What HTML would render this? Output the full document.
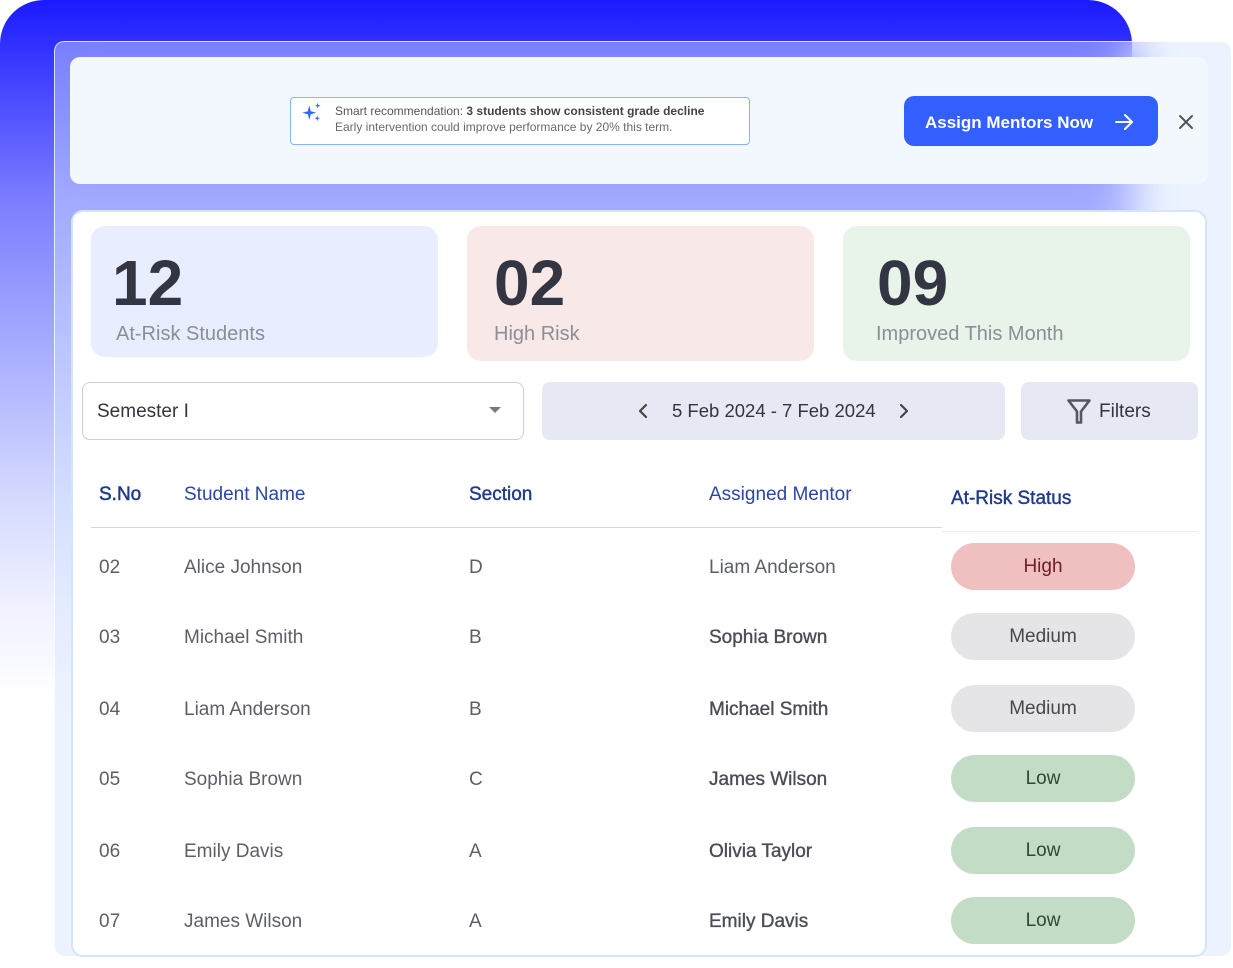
<!DOCTYPE html>
<html><head><meta charset="utf-8">
<style>
*{margin:0;padding:0;box-sizing:border-box}
body{width:1233px;height:968px;overflow:hidden;background:#fff;position:relative;font-family:"Liberation Sans",Arial,sans-serif}
.abs{position:absolute}
.t{position:absolute;white-space:nowrap}
.blue{left:0;top:0;width:1132px;height:968px;border-radius:44px 44px 0 0;
background:linear-gradient(180deg,#1a1aff 0px,#4b4cff 100px,#7b7dff 200px,#a8adff 350px,#d5daff 500px,#eef0ff 600px,#ffffff 700px)}
.panel{left:54px;top:41px;width:1177px;height:915px;border-radius:10px;background:rgba(212,228,255,0.44);border-left:1.5px solid rgba(255,255,255,0.75);border-top:1.5px solid rgba(255,255,255,0.75);-webkit-backdrop-filter:blur(22px);backdrop-filter:blur(22px)}
.topcard{left:70px;top:57px;width:1138px;height:127px;border-radius:10px;background:#f3f7fe}
.rec{left:290px;top:97px;width:460px;height:48px;border:1px solid #86b4ff;border-radius:4px;background:#fff}
.btn{left:904px;top:96px;width:254px;height:50px;border-radius:10px;background:#345fff}
.main{left:71px;top:210px;width:1136px;height:747px;border:2px solid #d3e4fd;border-radius:12px;background:#fff}
.card{border-radius:14px}
.num{font-weight:bold;font-size:64px;line-height:64px;color:#333642}
.lbl{font-size:20px;line-height:24px;color:#8c8e95}
.ctl{border-radius:8px;background:#e6e9f3}
.hd{font-size:19px;line-height:24px}
.row{font-size:19px;line-height:24px;color:#5d5f68}
.men{font-size:19px;line-height:24px;color:#4a4c56;-webkit-text-stroke:0.35px #4a4c56}
.pill{left:951px;width:184px;height:47px;border-radius:24px;font-size:19px;line-height:47px;text-align:center}
.high{background:#f0bfc0;color:#6b2026}
.med{background:#e5e5e8;color:#45474f}
.low{background:#c3dcc5;color:#2b4a30}
</style></head><body>
<div class="abs blue"></div>
<div class="abs panel"></div>
<div class="abs topcard"></div>

<div class="abs rec"></div>
<svg class="abs" style="left:300px;top:101px" width="26" height="24" viewBox="0 0 26 24">
<path d="M9.3 4.5 L10.8 10.2 L16.3 11.7 L10.8 13.2 L9.3 18.9 L7.8 13.2 L2.3 11.7 L7.8 10.2 Z" fill="#2d6cf6"/>
<path d="M17.7 1.8 L18.4 4 L20.6 4.7 L18.4 5.4 L17.7 7.6 L17 5.4 L14.8 4.7 L17 4 Z" fill="#2d6cf6"/>
<path d="M17.3 14.4 L18 16.6 L20.2 17.3 L18 18 L17.3 20.2 L16.6 18 L14.4 17.3 L16.6 16.6 Z" fill="#2d6cf6"/>
</svg>
<div class="t" style="left:335px;top:104px;font-size:12px;line-height:14px;color:#555">Smart recommendation: <b style="color:#444">3 students show consistent grade decline</b></div>
<div class="t" style="left:335px;top:120px;font-size:12px;line-height:14px;color:#6a6a6a">Early intervention could improve performance by 20% this term.</div>

<div class="abs btn"></div>
<div class="t" style="left:925px;top:111px;font-size:17px;line-height:24px;font-weight:bold;color:#fff">Assign Mentors Now</div>
<svg class="abs" style="left:1114px;top:112px" width="22" height="20" viewBox="0 0 22 20">
<path d="M2 10 H18 M11 3 L18 10 L11 17" stroke="#fff" stroke-width="2" fill="none" stroke-linecap="round" stroke-linejoin="round"/>
</svg>
<svg class="abs" style="left:1177px;top:113px" width="18" height="18" viewBox="0 0 18 18">
<path d="M3 3 L15 15 M15 3 L3 15" stroke="#555" stroke-width="2" stroke-linecap="round"/>
</svg>

<div class="abs main"></div>

<div class="abs card" style="left:91px;top:226px;width:347px;height:131px;background:#e8eeff"></div>
<div class="abs card" style="left:467px;top:226px;width:347px;height:135px;background:#f9e8e8"></div>
<div class="abs card" style="left:843px;top:226px;width:347px;height:135px;background:#e8f3ea"></div>
<div class="t num" style="left:112px;top:251px">12</div>
<div class="t lbl" style="left:116px;top:322px">At-Risk Students</div>
<div class="t num" style="left:494px;top:251px">02</div>
<div class="t lbl" style="left:494px;top:322px">High Risk</div>
<div class="t num" style="left:877px;top:251px">09</div>
<div class="t lbl" style="left:876px;top:322px">Improved This Month</div>

<div class="abs" style="left:82px;top:382px;width:442px;height:58px;border:1px solid #cfcfd3;border-radius:8px;background:#fff"></div>
<div class="t" style="left:97px;top:400px;font-size:19px;line-height:24px;color:#33353d">Semester I</div>
<svg class="abs" style="left:488px;top:406px" width="14" height="8" viewBox="0 0 14 8"><path d="M1 1 H13 L7 7 Z" fill="#77797f"/></svg>

<div class="abs ctl" style="left:542px;top:382px;width:463px;height:58px"></div>
<svg class="abs" style="left:636px;top:402px" width="14" height="18" viewBox="0 0 14 18"><path d="M10 3 L4 9 L10 15" stroke="#444" stroke-width="2.2" fill="none" stroke-linecap="round" stroke-linejoin="round"/></svg>
<div class="t" style="left:672px;top:399px;font-size:18.5px;line-height:24px;color:#33353d">5 Feb 2024 - 7 Feb 2024</div>
<svg class="abs" style="left:897px;top:402px" width="14" height="18" viewBox="0 0 14 18"><path d="M4 3 L10 9 L4 15" stroke="#444" stroke-width="2.2" fill="none" stroke-linecap="round" stroke-linejoin="round"/></svg>

<div class="abs ctl" style="left:1021px;top:382px;width:177px;height:58px"></div>
<svg class="abs" style="left:1066px;top:398px" width="26" height="27" viewBox="0 0 26 27"><path d="M2.5 2.5 H23.5 L15 13.5 V24.5 H11 V13.5 Z" stroke="#55575e" stroke-width="2.6" fill="none" stroke-linejoin="round"/></svg>
<div class="t" style="left:1099px;top:400px;font-size:19px;line-height:24px;color:#33353d">Filters</div>

<div class="t hd" style="left:99px;top:483px;color:#1e3a8a;-webkit-text-stroke:0.5px #1e3a8a">S.No</div>
<div class="t hd" style="left:184px;top:483px;color:#2a46a6">Student Name</div>
<div class="t hd" style="left:469px;top:483px;color:#1e3a8a;-webkit-text-stroke:0.4px #1e3a8a">Section</div>
<div class="t hd" style="left:709px;top:483px;color:#2a46a6">Assigned Mentor</div>
<div class="t hd" style="left:951px;top:487px;color:#1e3a8a;-webkit-text-stroke:0.4px #1e3a8a">At-Risk Status</div>
<div class="abs" style="left:91px;top:527px;width:851px;height:1px;background:#d4d4d6"></div>
<div class="abs" style="left:942px;top:531px;width:256px;height:1px;background:#ededef"></div>

<div class="t row" style="left:99px;top:556px">02</div>
<div class="t row" style="left:184px;top:556px">Alice Johnson</div>
<div class="t row" style="left:469px;top:556px">D</div>
<div class="t row" style="left:709px;top:556px">Liam Anderson</div>
<div class="abs pill high" style="top:543px">High</div>

<div class="t row" style="left:99px;top:626px">03</div>
<div class="t row" style="left:184px;top:626px">Michael Smith</div>
<div class="t row" style="left:469px;top:626px">B</div>
<div class="t men" style="left:709px;top:626px">Sophia Brown</div>
<div class="abs pill med" style="top:613px">Medium</div>

<div class="t row" style="left:99px;top:698px">04</div>
<div class="t row" style="left:184px;top:698px">Liam Anderson</div>
<div class="t row" style="left:469px;top:698px">B</div>
<div class="t men" style="left:709px;top:698px">Michael Smith</div>
<div class="abs pill med" style="top:685px">Medium</div>

<div class="t row" style="left:99px;top:768px">05</div>
<div class="t row" style="left:184px;top:768px">Sophia Brown</div>
<div class="t row" style="left:469px;top:768px">C</div>
<div class="t men" style="left:709px;top:768px">James Wilson</div>
<div class="abs pill low" style="top:755px">Low</div>

<div class="t row" style="left:99px;top:840px">06</div>
<div class="t row" style="left:184px;top:840px">Emily Davis</div>
<div class="t row" style="left:469px;top:840px">A</div>
<div class="t men" style="left:709px;top:840px">Olivia Taylor</div>
<div class="abs pill low" style="top:827px">Low</div>

<div class="t row" style="left:99px;top:910px">07</div>
<div class="t row" style="left:184px;top:910px">James Wilson</div>
<div class="t row" style="left:469px;top:910px">A</div>
<div class="t men" style="left:709px;top:910px">Emily Davis</div>
<div class="abs pill low" style="top:897px">Low</div>
</body></html>
